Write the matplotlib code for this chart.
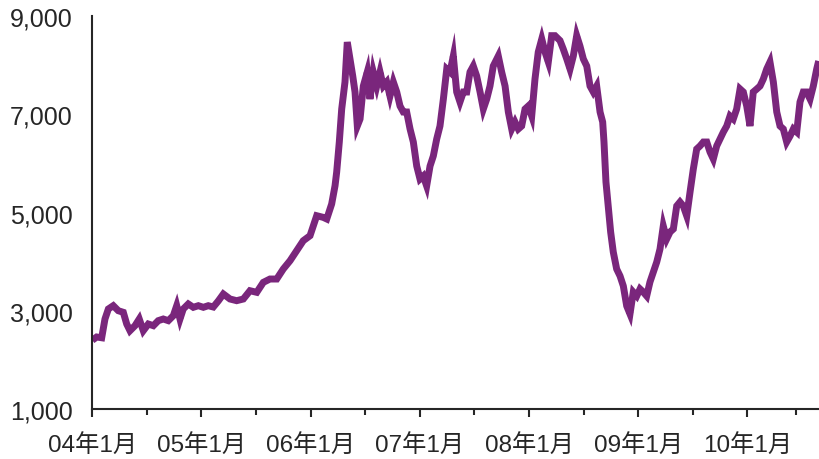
import matplotlib
matplotlib.use("Agg")
import matplotlib.pyplot as plt
from matplotlib.ticker import FixedLocator, FuncFormatter

plt.rcParams['font.family'] = ['Liberation Sans', 'Noto Sans CJK JP', 'DejaVu Sans']

# time in decimal years, price values
years = [
    2004.000, 2004.040, 2004.086, 2004.116, 2004.147, 2004.192, 2004.238, 2004.284, 2004.315, 2004.345,
    2004.391, 2004.430, 2004.467, 2004.513, 2004.559, 2004.604, 2004.650, 2004.696, 2004.742, 2004.773,
    2004.803, 2004.833, 2004.879, 2004.925, 2004.971, 2005.017, 2005.062, 2005.108, 2005.154, 2005.200,
    2005.261, 2005.322, 2005.383, 2005.444, 2005.506, 2005.566, 2005.627, 2005.689, 2005.749, 2005.811,
    2005.872, 2005.932, 2005.994, 2006.055, 2006.115, 2006.147, 2006.192, 2006.223, 2006.238, 2006.262,
    2006.284, 2006.314, 2006.335, 2006.360, 2006.385, 2006.406, 2006.427, 2006.452, 2006.482, 2006.518,
    2006.543, 2006.573, 2006.605, 2006.635, 2006.665, 2006.696, 2006.726, 2006.757, 2006.788, 2006.818,
    2006.848, 2006.879, 2006.910, 2006.940, 2006.971, 2007.001, 2007.031, 2007.062, 2007.093, 2007.123,
    2007.154, 2007.184, 2007.215, 2007.246, 2007.276, 2007.306, 2007.337, 2007.367, 2007.398, 2007.429,
    2007.459, 2007.489, 2007.520, 2007.551, 2007.581, 2007.612, 2007.642, 2007.672, 2007.718, 2007.749,
    2007.780, 2007.810, 2007.841, 2007.871, 2007.901, 2007.932, 2007.963, 2007.993, 2008.024, 2008.054,
    2008.084, 2008.116, 2008.146, 2008.176, 2008.207, 2008.237, 2008.283, 2008.313, 2008.345, 2008.375,
    2008.405, 2008.436, 2008.466, 2008.497, 2008.528, 2008.558, 2008.588, 2008.619, 2008.650, 2008.674,
    2008.686, 2008.704, 2008.725, 2008.747, 2008.771, 2008.802, 2008.833, 2008.863, 2008.894, 2008.924,
    2008.954, 2008.986, 2009.016, 2009.046, 2009.077, 2009.107, 2009.138, 2009.169, 2009.199, 2009.229,
    2009.260, 2009.291, 2009.321, 2009.352, 2009.382, 2009.412, 2009.444, 2009.474, 2009.504, 2009.535,
    2009.565, 2009.596, 2009.627, 2009.657, 2009.687, 2009.718, 2009.749, 2009.779, 2009.810, 2009.840,
    2009.870, 2009.901, 2009.932, 2009.962, 2009.993, 2010.023, 2010.053, 2010.085, 2010.115, 2010.145,
    2010.176, 2010.206, 2010.237, 2010.268, 2010.298, 2010.328, 2010.359, 2010.390, 2010.420, 2010.451,
    2010.481, 2010.511, 2010.542, 2010.573, 2010.603, 2010.634, 2010.652,
]
prices = [
    2400, 2466, 2450, 2832, 3036, 3103, 3001, 2968, 2730, 2594,
    2696, 2832, 2594, 2730, 2696, 2798, 2832, 2798, 2900, 3103,
    2832, 3036, 3138, 3070, 3103, 3070, 3103, 3076, 3200, 3341,
    3239, 3205, 3239, 3408, 3375, 3578, 3646, 3646, 3850, 4019,
    4223, 4426, 4528, 4935, 4901, 4868, 5173, 5546, 5824, 6435,
    7107, 7656, 8470, 8125, 7779, 7453, 6761, 6903, 7575, 7860,
    7310, 7860, 7575, 7860, 7575, 7656, 7371, 7656, 7453, 7168,
    7046, 7046, 6700, 6435, 5946, 5682, 5743, 5540, 5946, 6150,
    6496, 6761, 7310, 7921, 7860, 8186, 7453, 7250, 7453, 7453,
    7860, 7982, 7779, 7453, 7107, 7310, 7575, 7982, 8186, 7860,
    7575, 7046, 6700, 6842, 6700, 6761, 7107, 7168, 6964, 7717,
    8267, 8532, 8267, 8064, 8600, 8600, 8500, 8328, 8125, 7921,
    8186, 8600, 8389, 8125, 7982, 7575, 7453, 7575, 7046, 6842,
    6435, 5621, 5133, 4603, 4196, 3850, 3707, 3504, 3097, 2934,
    3380, 3300, 3443, 3380, 3300, 3585, 3789, 3992, 4257, 4725,
    4460, 4603, 4664, 5133, 5214, 5133, 4929, 5417, 5885, 6292,
    6354, 6435, 6435, 6231, 6089, 6354, 6496, 6638, 6761, 6964,
    6903, 7107, 7514, 7453, 7168, 6761, 7453, 7514, 7575, 7717,
    7921, 8064, 7656, 7046, 6761, 6700, 6435, 6557, 6700, 6638,
    7250, 7453, 7453, 7310, 7575, 7921, 8084,
]

y_ticks = [1000, 3000, 5000, 7000, 9000]
x_major = [2004, 2005, 2006, 2007, 2008, 2009, 2010]
x_labels = ["04年1月", "05年1月", "06年1月", "07年1月", "08年1月", "09年1月", "10年1月"]
x_minor = [2004.5, 2005.5, 2006.5, 2007.5, 2008.5, 2009.5, 2010.444]

line_color = "#7A267C"
axis_color = "#262626"

fig = plt.figure(figsize=(8.19, 4.60), dpi=100)
ax = fig.add_axes([0.1127, 0.1087, 0.8873, 0.8543])

ax.plot(years, prices, color=line_color, linewidth=5.0, solid_joinstyle='miter', solid_capstyle='butt')

ax.set_xlim(2004.0, 2010.655)
ax.set_ylim(1000, 9000)

ax.yaxis.set_major_locator(FixedLocator(y_ticks))
ax.yaxis.set_major_formatter(FuncFormatter(lambda v, p: f"{int(v):,}"))
ax.tick_params(axis='y', length=0, pad=14, labelsize=18, labelcolor=axis_color)

ax.set_xticks(x_major)
ax.set_xticklabels(x_labels)
ax.xaxis.set_minor_locator(FixedLocator(x_minor))
ax.tick_params(axis='x', which='major', direction='out', length=6, width=1.5,
               color=axis_color, pad=12, labelsize=17.5, labelcolor=axis_color)
ax.tick_params(axis='x', which='minor', direction='out', length=4.5, width=1.5, color=axis_color)

for side in ['top', 'right']:
    ax.spines[side].set_visible(False)
for side in ['left', 'bottom']:
    ax.spines[side].set_color(axis_color)
    ax.spines[side].set_linewidth(1.5)

fig.savefig("out.png", dpi=100)
